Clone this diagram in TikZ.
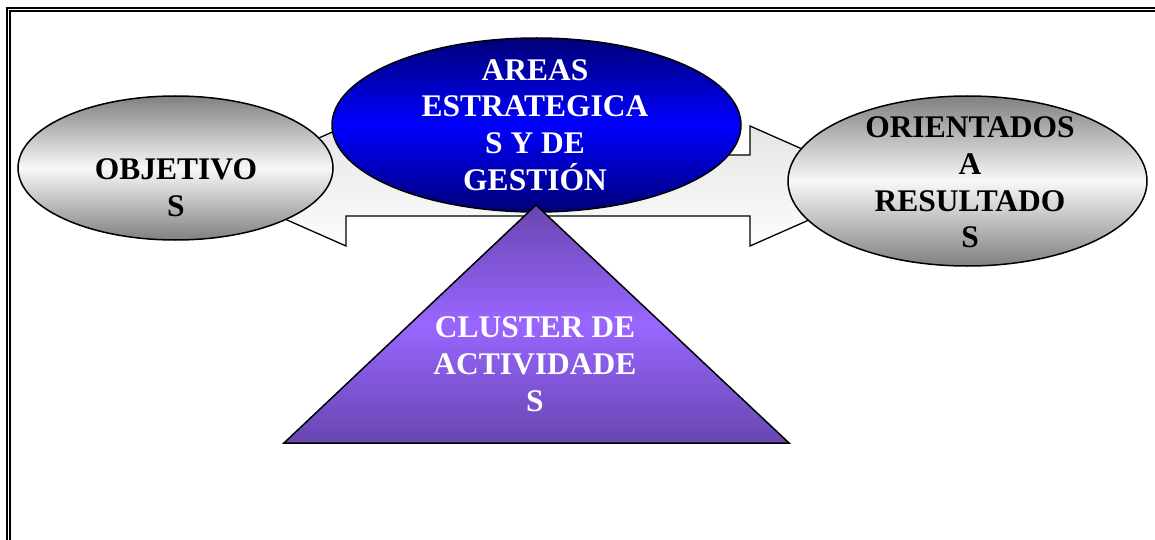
\documentclass[tikz,border=0pt]{standalone}
\usepackage{fontspec}
\setmainfont{Liberation Serif}
\usetikzlibrary{shapes.geometric}
\definecolor{navy}{RGB}{0,0,120}
\definecolor{brightblue}{RGB}{0,0,255}
\definecolor{purpdark}{RGB}{104,70,176}
\definecolor{purplight}{RGB}{153,102,255}
\definecolor{graydark}{RGB}{128,128,128}
\definecolor{graylight}{RGB}{248,248,248}
\tikzset{
  frameline/.style={line width=1.1pt, black},
  shapeline/.style={draw=black, line width=1.5pt},
  grayell/.style={shapeline, ellipse, inner sep=0pt, top color=graydark, bottom color=graydark, middle color=graylight},
  blueell/.style={shapeline, ellipse, inner sep=0pt, top color=navy, bottom color=navy, middle color=brightblue},
  lbl/.style={font=\bfseries\fontsize{31.5}{36.8}\selectfont, align=center, inner sep=0pt},
}
\begin{document}
\begin{tikzpicture}[x=1pt, y=-1pt]
\useasboundingbox (0,0) rectangle (1155,540);
% frame
\draw[frameline] (7,540) -- (7,8) -- (1155,8);
\draw[frameline] (10,540) -- (10,11) -- (1155,11);
% block arrow
\draw[line width=1.3pt, top color=gray!20, bottom color=gray!2]
  (210,186) -- (346,126) -- (346,155) -- (750,155) -- (750,126) -- (886,186)
  -- (750,246) -- (750,216) -- (346,216) -- (346,246) -- cycle;
% ellipses
\node[grayell, minimum width=315pt, minimum height=144pt] (obj) at (175.5,168) {};
\node[grayell, minimum width=359pt, minimum height=170pt] (ori) at (967.5,181) {};
\node[blueell, minimum width=409pt, minimum height=174pt] (areas) at (536.5,125) {};
% triangle
\coordinate (apex) at (536,205);
\coordinate (bl) at (284,443);
\coordinate (br) at (789,443);
\draw[shapeline, line join=miter, top color=purpdark, bottom color=purpdark, middle color=purplight]
  (apex) -- (br) -- (bl) -- cycle;
% labels
\node[lbl, text=black] (tobj) at (176,187.5) {OBJETIVO\\S};
\node[lbl, text=white] (tareas) at (535,125) {AREAS\\ESTRATEGICA\\S Y DE\\GESTIÓN};
\node[lbl, text=black] (tori) at (970,182.5) {ORIENTADOS\\A\\RESULTADO\\S};
\node[lbl, text=white] (tclu) at (535,364.5) {CLUSTER DE\\ACTIVIDADE\\S};
\end{tikzpicture}
\end{document}
